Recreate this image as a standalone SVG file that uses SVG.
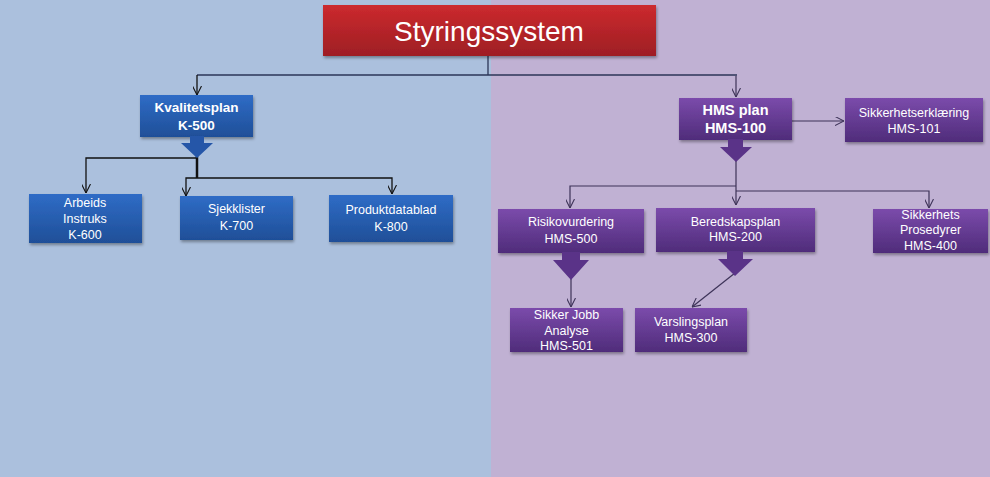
<svg xmlns="http://www.w3.org/2000/svg" width="990" height="477" viewBox="0 0 990 477">
<defs>
<linearGradient id="gRed" x1="0" y1="0" x2="0" y2="1"><stop offset="0" stop-color="#cc2a2e"/><stop offset="1" stop-color="#9e1e24"/></linearGradient>
<linearGradient id="gBlue" x1="0" y1="0" x2="0" y2="1"><stop offset="0" stop-color="#2f6cc6"/><stop offset="1" stop-color="#1f4f98"/></linearGradient>
<linearGradient id="gPur" x1="0" y1="0" x2="0" y2="1"><stop offset="0" stop-color="#7b4bab"/><stop offset="1" stop-color="#4f2c7a"/></linearGradient>
<filter id="sh" x="-10%" y="-10%" width="125%" height="140%"><feDropShadow dx="1" dy="2" stdDeviation="1.5" flood-color="#000" flood-opacity="0.35"/></filter>
<marker id="ah" viewBox="0 0 10 10" refX="10" refY="5" markerWidth="9" markerHeight="9" markerUnits="userSpaceOnUse" orient="auto"><path d="M0,0 L10,5 L0,10" fill="none" stroke="context-stroke" stroke-width="1.2"/></marker>
</defs>
<style>
.t{font-family:"Liberation Sans",Arial,sans-serif;fill:#fff;text-anchor:middle}
.s{font-size:12.5px}
.b{font-weight:bold}
.cl{fill:none;stroke:#111;stroke-width:1.3}
.cr{fill:none;stroke:#3d3358;stroke-width:1.2}
.blue{fill:url(#gBlue);filter:url(#sh)}
.pur{fill:url(#gPur);filter:url(#sh)}
</style>
<rect x="0" y="0" width="491" height="477" fill="#abc0dd"/>
<rect x="491" y="0" width="499" height="477" fill="#c0b1d3"/>

<g id="connectors">
<path class="cl" d="M488,56 V75 M197,75 H488 M488,75 H737" style="stroke:#2c3658"/>
<path class="cl" d="M197,75 V95" marker-end="url(#ah)"/>
<path class="cr" d="M736,76 V97" marker-end="url(#ah)"/>
<path class="cl" d="M197,150 V178" style="stroke-width:2.5"/>
<path class="cl" d="M197,158 H86 V193" marker-end="url(#ah)"/>
<path class="cl" d="M197,178 H186 V196" marker-end="url(#ah)"/>
<path class="cl" d="M197,178 H392 V194" marker-end="url(#ah)"/>
<path class="cr" d="M792,121 H844" marker-end="url(#ah)"/>
<path class="cr" d="M736,160 V205" marker-end="url(#ah)"/>
<path class="cr" d="M736,186 H570 V208" marker-end="url(#ah)"/>
<path class="cr" d="M736,191 H929 V208" marker-end="url(#ah)"/>
<path class="cr" d="M571,275 V307" marker-end="url(#ah)"/>
<path class="cr" d="M735,273 L692,307" marker-end="url(#ah)"/>
</g>

<g id="n-styring">
<rect x="323" y="5" width="333" height="51" fill="url(#gRed)" filter="url(#sh)"/>
<text class="t" x="489" y="41" style="font-size:28px">Styringssystem</text>
</g>

<g id="n-k500">
<rect class="blue" x="140" y="95" width="113" height="42"/>
<path d="M190,136 H204 V143 H213 L197,158 L181,143 H190 Z" fill="#2556a8"/>
<text class="t b" x="196.5" y="112" style="font-size:13.5px">Kvalitetsplan</text>
<text class="t b" x="196.5" y="130" style="font-size:13.5px">K-500</text>
</g>

<g id="n-k600">
<rect class="blue" x="29" y="194" width="113" height="49"/>
<text class="t s" x="85" y="207">Arbeids</text>
<text class="t s" x="85" y="223">Instruks</text>
<text class="t s" x="85" y="239">K-600</text>
</g>

<g id="n-k700">
<rect class="blue" x="180" y="196" width="113" height="44"/>
<text class="t s" x="236.5" y="213">Sjekklister</text>
<text class="t s" x="236.5" y="230">K-700</text>
</g>

<g id="n-k800">
<rect class="blue" x="329" y="195" width="124" height="47"/>
<text class="t s" x="391" y="214">Produktdatablad</text>
<text class="t s" x="391" y="231">K-800</text>
</g>

<g id="n-hms100">
<rect class="pur" x="679" y="98" width="113" height="42"/>
<path d="M728,139 H743 V147 H752 L736,162 L720,147 H728 Z" fill="#5a3388"/>
<text class="t b" x="735.5" y="115" style="font-size:14.5px">HMS plan</text>
<text class="t b" x="735.5" y="133" style="font-size:14.5px">HMS-100</text>
</g>

<g id="n-hms101">
<rect class="pur" x="845" y="98" width="138" height="44"/>
<text class="t s" x="914" y="117">Sikkerhetserklæring</text>
<text class="t s" x="914" y="133">HMS-101</text>
</g>

<g id="n-hms500">
<rect class="pur" x="498" y="209" width="146" height="44"/>
<path d="M562,252 H580 V260 H589 L571,280 L553,260 H562 Z" fill="#5a3388"/>
<text class="t s" x="571" y="226">Risikovurdering</text>
<text class="t s" x="571" y="243">HMS-500</text>
</g>

<g id="n-hms200">
<rect class="pur" x="656" y="208" width="159" height="44"/>
<path d="M727,251 H743 V259 H753 L735,276 L718,259 H727 Z" fill="#5a3388"/>
<text class="t s" x="735.5" y="226">Beredskapsplan</text>
<text class="t s" x="735.5" y="241">HMS-200</text>
</g>

<g id="n-hms400">
<rect class="pur" x="873" y="209" width="115" height="44"/>
<text class="t s" x="930.5" y="219">Sikkerhets</text>
<text class="t s" x="930.5" y="234">Prosedyrer</text>
<text class="t s" x="930.5" y="250">HMS-400</text>
</g>

<g id="n-hms501">
<rect class="pur" x="510" y="308" width="113" height="44"/>
<text class="t s" x="566.5" y="319">Sikker Jobb</text>
<text class="t s" x="566.5" y="335">Analyse</text>
<text class="t s" x="566.5" y="350">HMS-501</text>
</g>

<g id="n-hms300">
<rect class="pur" x="635" y="308" width="112" height="44"/>
<text class="t s" x="691" y="326">Varslingsplan</text>
<text class="t s" x="691" y="342">HMS-300</text>
</g>
</svg>
